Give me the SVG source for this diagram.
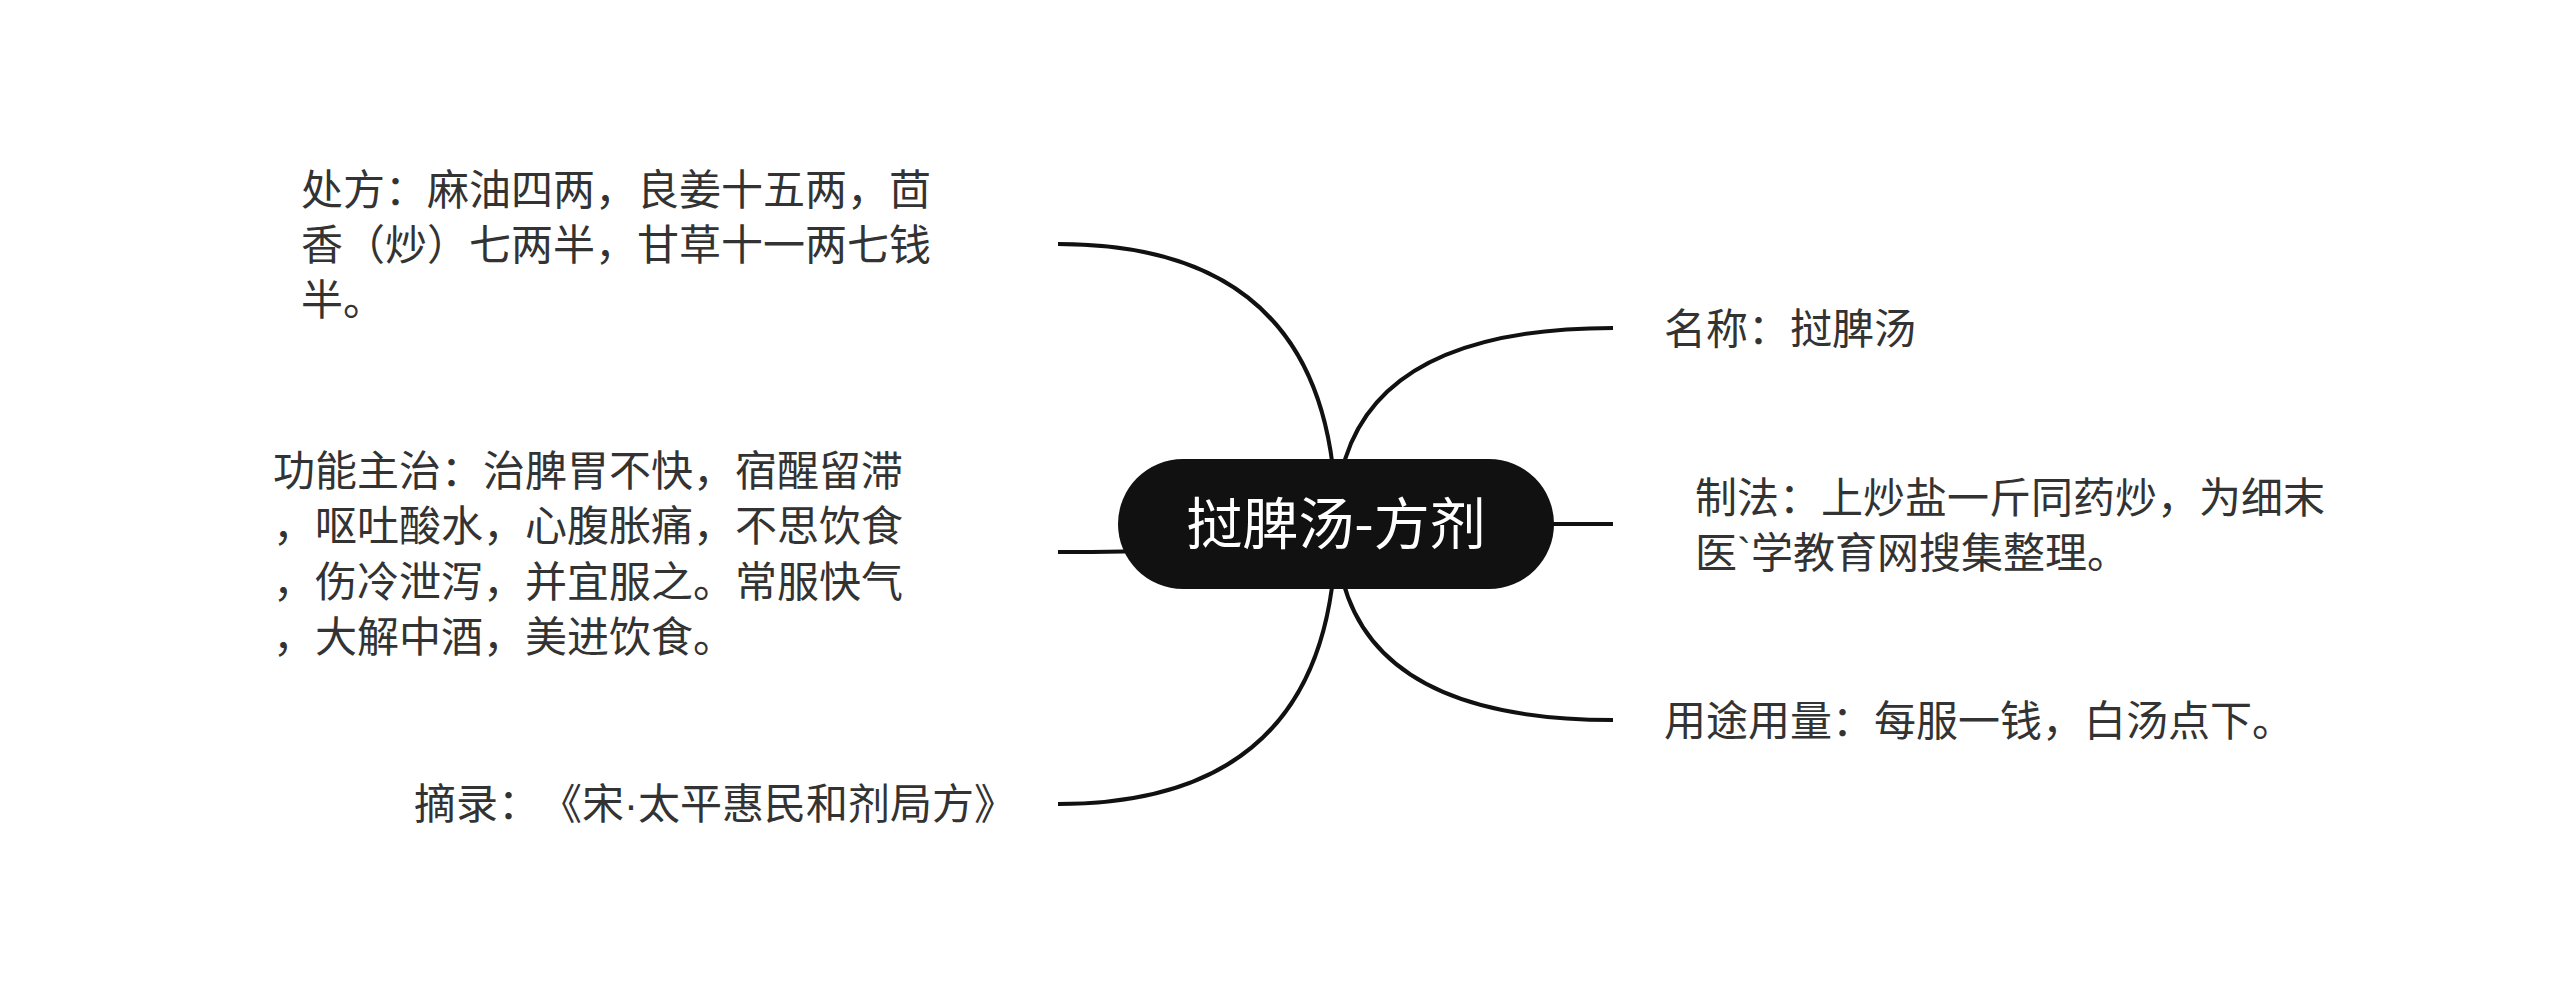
<svg xmlns="http://www.w3.org/2000/svg" width="2560" height="993" viewBox="0 0 2560 993">
<style>
text{text-spacing-trim:space-all;font-feature-settings:"chws" 0,"halt" 0}
.t{font-family:"Noto Sans CJK SC","Noto Sans",sans-serif;font-size:42px;fill:#333333}
.lat{font-family:"Liberation Sans","Noto Sans",sans-serif}
.c{fill:none;stroke:#111111;stroke-width:4;stroke-linecap:butt}
.root{fill:#111111}
.rt{font-family:"Noto Sans CJK SC","Noto Sans",sans-serif;font-size:56px;fill:#ffffff;text-anchor:middle}
</style>
<rect width="2560" height="993" fill="#ffffff"/>
<g id="connectors">
<path class="c" d="M1336,524 Q1336,244 1058,244"/>
<path class="c" d="M1336,524 Q1336,552 1058,552"/>
<path class="c" d="M1336,524 Q1336,804 1058,804"/>
<path class="c" d="M1336,524 Q1336,328 1613,328"/>
<path class="c" d="M1336,524 L1613,524"/>
<path class="c" d="M1336,524 Q1336,720 1613,720"/>
</g>
<g id="root">
<rect class="root" x="1118" y="459" width="436" height="130" rx="65" ry="65"/>
<text class="rt" x="1336" y="544">挝脾汤-方剂</text>
</g>
<g id="node-chufang">
<text class="t" x="301" y="205">处方：麻油四两，良姜十五两，茴</text>
<text class="t" x="301" y="260">香（炒）七两半，甘草十一两七钱</text>
<text class="t" x="301" y="315">半。</text>
</g>
<g id="node-gongneng">
<text class="t" x="273" y="486">功能主治：治脾胃不快，宿醒留滞</text>
<text class="t" x="273" y="541">，呕吐酸水，心腹胀痛，不思饮食</text>
<text class="t" x="273" y="597">，伤冷泄泻，并宜服之。常服快气</text>
<text class="t" x="273" y="652">，大解中酒，美进饮食。</text>
</g>
<g id="node-zhailu">
<text class="t" x="414" y="819">摘录：《宋<tspan class="lat">·</tspan>太平惠民和剂局方》</text>
</g>
<g id="node-mingcheng">
<text class="t" x="1664" y="344">名称：挝脾汤</text>
</g>
<g id="node-zhifa">
<text class="t" x="1695" y="513">制法：上炒盐一斤同药炒，为细末</text>
<text class="t" x="1695" y="568">医<tspan class="lat">`</tspan>学教育网搜集整理。</text>
</g>
<g id="node-yongtu">
<text class="t" x="1664" y="736">用途用量：每服一钱，白汤点下。</text>
</g>
</svg>
